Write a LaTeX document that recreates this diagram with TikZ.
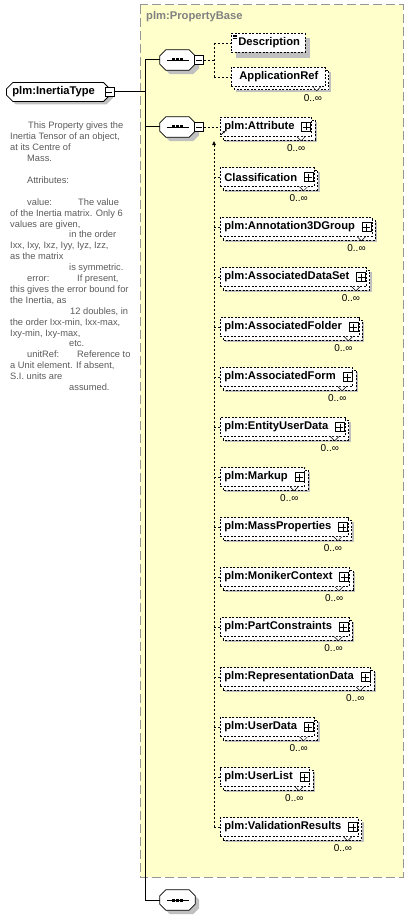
\documentclass[tikz,border=0pt]{standalone}
\usepackage{fontspec}
\setmainfont{Liberation Sans}
\usetikzlibrary{arrows.meta,positioning,shapes.misc,calc,backgrounds,shadows}
\definecolor{pbyellow}{RGB}{255,255,204}
\definecolor{pbborder}{RGB}{150,150,150}
\definecolor{pbtitle}{RGB}{128,128,128}
\definecolor{shadowgray}{RGB}{192,192,192}
\definecolor{doctext}{RGB}{90,90,90}
\newcommand{\elemfont}{\bfseries\fontsize{11.2pt}{13pt}\selectfont}
\newcommand{\cardfont}{\fontsize{10pt}{12pt}\selectfont}
\newcommand{\docfont}{\fontsize{9.3pt}{10.9pt}\selectfont}
% octagon outline of a compositor node, shifted by (#2,#3)
\newcommand{\seqoutline}[3]{([xshift=#2+6pt,yshift=#3]#1.north west) -- ([xshift=#2-6pt,yshift=#3]#1.north east)
  -- ([xshift=#2,yshift=#3-6pt]#1.north east) -- ([xshift=#2,yshift=#3+6pt]#1.south east)
  -- ([xshift=#2-6pt,yshift=#3]#1.south east) -- ([xshift=#2+6pt,yshift=#3]#1.south west)
  -- ([xshift=#2,yshift=#3+6pt]#1.south west) -- ([xshift=#2,yshift=#3-6pt]#1.north west) -- cycle}

\begin{document}
\begin{tikzpicture}[x=1pt, y=-1pt,
    elem/.style={draw, dash pattern=on 2pt off 1.5pt, line width=0.7pt, fill=white, font=\elemfont, inner xsep=4pt, inner ysep=0pt, minimum height=19pt, anchor=west},
    plusel/.style={elem, execute at end node={\hspace{13pt}}},
    backbox/.style={draw, dash pattern=on 2pt off 1.5pt, line width=0.7pt, fill=white},
    shade/.style={fill=shadowgray},
    tinybox/.style={draw, solid, fill=white, minimum size=9pt, inner sep=0pt, line width=0.6pt},
    plusbox/.style={tinybox, path picture={
        \draw[line width=0.6pt] ([yshift=-1pt]path picture bounding box.north) -- ([yshift=1pt]path picture bounding box.south)
          ([xshift=1pt]path picture bounding box.west) -- ([xshift=-1pt]path picture bounding box.east);}},
    minusbox/.style={tinybox, path picture={
        \draw[line width=0.6pt] ([xshift=1.5pt]path picture bounding box.west) -- ([xshift=-1.5pt]path picture bounding box.east);}},
    seqbox/.style={minimum width=35pt, minimum height=20pt, inner sep=0pt},
    seqline/.style={draw, solid, line width=0.8pt, fill=white},
    notch/.style={draw, fill=white, line width=0.5pt},
    card/.style={font=\cardfont, inner sep=0.5pt},
    conn/.style={line width=1pt},
    dconn/.style={dash pattern=on 2pt off 2pt, line width=0.8pt},
    doc/.style={font=\docfont, text=doctext, align=left, inner sep=0pt}
]
\useasboundingbox (0,0) rectangle (408,915);

% PropertyBase group
\begin{scope}[on background layer]
  \fill[pbyellow] (140,5) rectangle (403,877);
  \draw[pbborder, dash pattern=on 9pt off 4pt, line width=1pt] (140,5) rectangle (403,877);
\end{scope}
\node[font=\elemfont, text=pbtitle, anchor=west, inner sep=0pt] (pbtitle) at (146,17) {plm:PropertyBase};

% root element
\node[chamfered rectangle, chamfered rectangle xsep=3pt, draw, line width=0.8pt, fill=white, font=\elemfont,
      inner xsep=3pt, inner ysep=0pt, minimum height=19pt, anchor=west,
      drop shadow={shadow xshift=3pt, shadow yshift=-3pt, fill=shadowgray, opacity=1},
      execute at end node={\hspace{9pt}}] (inertia) at (6,92) {plm:InertiaType};
\node[minusbox] (inertia-m) at ([xshift=-1pt]inertia.east) {};

% documentation
\node[doc, anchor=north west] (note) at (10,122) {%
\hspace*{18pt}This Property gives the\\
Inertia Tensor of an object,\\
at its Centre of\\
\hspace*{17pt}Mass.\\[10.9pt]
\hspace*{17pt}Attributes:\\[10.9pt]
\hspace*{17pt}\makebox[51pt][l]{value:}The value\\
of the Inertia matrix. Only 6\\
values are given,\\
\hspace*{59pt}in the order\\
Ixx, Ixy, Ixz, Iyy, Iyz, Izz,\\
as the matrix\\
\hspace*{59pt}is symmetric.\\
\hspace*{17pt}\makebox[50pt][l]{error:}If present,\\
this gives the error bound for\\
the Inertia, as\\
\hspace*{60pt}12 doubles, in\\
the order Ixx-min, Ixx-max,\\
Ixy-min, Ixy-max,\\
\hspace*{59pt}etc.\\
\hspace*{17pt}\makebox[50pt][l]{unitRef:}Reference to\\
a Unit element. If absent,\\
S.I. units are\\
\hspace*{59pt}assumed.};

% sequences
\node[seqbox] (seq1) at (177.5,60) {};
\node[seqbox] (seq2) at (177.5,127) {};
\node[seqbox] (seq3) at (177.5,900) {};
\foreach \s in {seq1,seq2,seq3} {
  \begin{scope}[on background layer]
    \fill[shade] \seqoutline{\s}{4pt}{-4pt};
  \end{scope}
  \filldraw[seqline] \seqoutline{\s}{0pt}{0pt};
  \draw[line width=0.8pt] ($(\s.center)+(-11,0)$) -- ($(\s.center)+(11,0)$);
  \foreach \dx in {-4,0,4}
    \fill ($(\s.center)+(\dx-1.5,-1.5)$) rectangle ++(3,3);
}
\node[minusbox, anchor=west] (seq1-m) at ([xshift=-1pt]seq1.east) {};
\node[minusbox, anchor=west] (seq2-m) at ([xshift=-1pt]seq2.east) {};

\coordinate (bus-top) at (145,60);
\coordinate (bus-bot) at (145,900);
\draw[conn] (inertia-m.east) -- (inertia-m.east -| bus-top);
\draw[conn] (bus-top) -- (bus-bot);
\draw[conn] (bus-top) -- (seq1.west);
\draw[conn] (seq2.west -| bus-top) -- (seq2.west);
\draw[conn] (bus-bot) -- (seq3.west);

% first sequence
\node[elem, execute at begin node={\hspace{3pt}}, execute at end node={\hspace{1pt}}] (descr) at (231,43) {Description};
\node[elem, execute at begin node={\hspace{4pt}}, execute at end node={\hspace{3pt}}] (appref) at (231,77) {ApplicationRef};
\begin{scope}[on background layer]
  \fill[shade] ([xshift=5pt,yshift=-5pt]descr.south west) rectangle ([xshift=5pt,yshift=-5pt]descr.north east);
  \fill[shade] ([xshift=5pt,yshift=-5pt]appref.south west) rectangle ([xshift=5pt,yshift=-5pt]appref.north east);
  \draw[backbox] ([xshift=3pt,yshift=-3pt]appref.south west) rectangle ([xshift=3pt,yshift=-3pt]appref.north east);
\end{scope}
\foreach \k in {2,3.5,5}
  \draw[line width=0.5pt] ([xshift=2pt,yshift=-\k pt]descr.north west) -- ++(4,0);
\filldraw[notch] ([xshift=-13pt]appref.south east) -- ++(4,4) -- ++(4,-4);
\node[card, anchor=north east] (appref-c) at ([xshift=-3pt,yshift=-7pt]appref.south east) {0..∞};

\coordinate (fork) at (214,60);
\draw[dconn] (seq1-m.east) -- (fork);
\draw[dconn] (fork |- descr.west) -- (fork |- appref.west);
\draw[dconn] (fork |- descr.west) -- (descr.west);
\draw[dconn] (fork |- appref.west) -- (appref.west);

% second sequence
\foreach \name/\lbl [count=\i from 0] in {attr/plm:Attribute, classif/Classification,
    annot/plm:Annotation3DGroup, dataset/plm:AssociatedDataSet, folder/plm:AssociatedFolder,
    form/plm:AssociatedForm, entity/plm:EntityUserData, markup/plm:Markup,
    massprop/plm:MassProperties, moniker/plm:MonikerContext, partcon/plm:PartConstraints,
    repdata/plm:RepresentationData, udata/plm:UserData, ulist/plm:UserList,
    valid/plm:ValidationResults} {
  \pgfmathsetmacro{\ypos}{127+50*\i}
  \node[plusel] (\name) at (220,\ypos) {\lbl};
  \begin{scope}[on background layer]
    \fill[shade] ([xshift=5pt,yshift=-5pt]\name.south west) rectangle ([xshift=5pt,yshift=-5pt]\name.north east);
    \draw[backbox] ([xshift=3pt,yshift=-3pt]\name.south west) rectangle ([xshift=3pt,yshift=-3pt]\name.north east);
  \end{scope}
  \node[plusbox, anchor=east] (\name-p) at ([xshift=-1pt]\name.east) {};
  \filldraw[notch] ([xshift=-15pt]\name.south east) -- ++(4,4) -- ++(4,-4);
  \node[card, anchor=north east] (\name-c) at ([xshift=-6pt,yshift=-7pt]\name.south east) {0..∞};
  \coordinate (\name-s) at (214,\ypos);
  \ifnum\i>0 \draw[dconn] (\name-s) -- (\name.west); \fi
}
\coordinate (spinetop) at (214,141);
\draw[dconn] (seq2-m.east) -- (attr.west);
\draw[dconn, -{Triangle[length=4pt,width=3.5pt]}] (valid-s) -- (spinetop);
\draw[-{Stealth[length=2.5pt,width=2.5pt]}, line width=0.8pt] ([xshift=1pt,yshift=2pt]attr.south west) -- ++(4,-4);
\end{tikzpicture}
\end{document}
